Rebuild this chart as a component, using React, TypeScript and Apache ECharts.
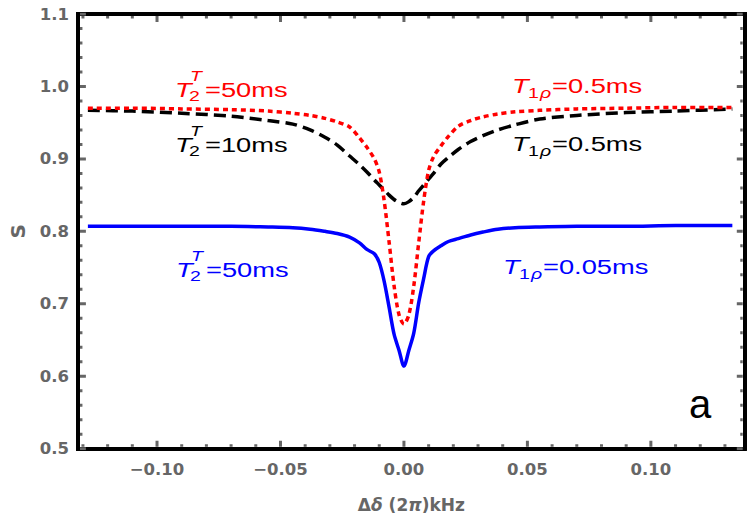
import React, { useEffect, useRef } from "react";
import * as echarts from "echarts";

// Detuning grid (2π kHz) shared by the three curves
const deltaKHz = [
  -0.128, -0.11, -0.09, -0.07, -0.055, -0.045, -0.038, -0.032, -0.027, -0.022,
  -0.018, -0.015, -0.012, -0.01, -0.008, -0.006, -0.004, -0.002, 0, 0.002,
  0.004, 0.006, 0.008, 0.01, 0.012, 0.015, 0.018, 0.022, 0.027, 0.032,
  0.038, 0.045, 0.055, 0.07, 0.09, 0.11, 0.133,
];

// T2^T = 50 ms, T1rho = 0.5 ms (red, dotted)
const sRedDotted = [
  0.97, 0.97, 0.969, 0.968, 0.966, 0.963, 0.96, 0.956, 0.951, 0.944,
  0.929, 0.916, 0.9, 0.882, 0.842, 0.785, 0.725, 0.685, 0.672, 0.685,
  0.725, 0.785, 0.842, 0.884, 0.903, 0.918, 0.931, 0.945, 0.953, 0.958,
  0.962, 0.965, 0.967, 0.969, 0.97, 0.971, 0.971,
];

// T2^T = 10 ms, T1rho = 0.5 ms (black, dashed)
const sBlackDashed = [
  0.967, 0.966, 0.963, 0.959, 0.953, 0.948, 0.94, 0.93, 0.919, 0.904,
  0.892, 0.882, 0.871, 0.864, 0.857, 0.85, 0.844, 0.84, 0.838, 0.841,
  0.847, 0.856, 0.864, 0.872, 0.88, 0.893, 0.902, 0.913, 0.924, 0.932,
  0.94, 0.947, 0.955, 0.96, 0.964, 0.966, 0.969,
];

// T2^T = 50 ms, T1rho = 0.05 ms (blue, solid)
const sBlueSolid = [
  0.807, 0.807, 0.807, 0.807, 0.806, 0.805, 0.803, 0.8, 0.797, 0.792,
  0.784, 0.775, 0.769, 0.757, 0.731, 0.695, 0.658, 0.636, 0.614, 0.636,
  0.66, 0.702, 0.735, 0.765, 0.773, 0.78, 0.786, 0.79, 0.795, 0.799,
  0.803, 0.805, 0.806, 0.807, 0.807, 0.808, 0.808,
];

// Frame tick marks (drawn on all four sides)
const xMajorTicks = [-0.1, -0.05, 0, 0.05, 0.1];
const xMinorTicks = [
  -0.13, -0.12, -0.11, -0.09, -0.08, -0.07, -0.06, -0.04, -0.03, -0.02, -0.01,
  0.01, 0.02, 0.03, 0.04, 0.06, 0.07, 0.08, 0.09, 0.11, 0.12, 0.13,
];
const yMajorTicks = [0.5, 0.6, 0.7, 0.8, 0.9, 1.0, 1.1];
const yMinorTicks = [
  0.52, 0.54, 0.56, 0.58, 0.62, 0.64, 0.66, 0.68, 0.72, 0.74, 0.76, 0.78,
  0.82, 0.84, 0.86, 0.88, 0.92, 0.94, 0.96, 0.98, 1.02, 1.04, 1.06, 1.08,
];

const xRange = [-0.132, 0.138];
const yRange = [0.5, 1.1];

const RED = "#ff0000";
const BLUE = "#0000ff";
const BLACK = "#000000";
const GRAY = "#666666";
const LABEL_FONT = '"Liberation Sans", Arial, sans-serif';
const AXIS_FONT = '"DejaVu Sans", sans-serif';
const STRETCH = 1.3;

// Tick lengths in axis units (x ticks run along y, y ticks run along x)
const Y_TICK = { start: 0.0028, major: 0.011, minor: 0.0062 };
const X_TICK = { start: 0.0008, major: 0.0032, minor: 0.0018 };

type Piece = { t: string; dx: number; dy: number; size: number; italic?: boolean };

// Left-hand labels: T with stacked superscript T and subscript 2
const t2Pieces = (rest: string): Piece[] => [
  { t: "T", dx: 0, dy: 0, size: 21, italic: true },
  { t: "T", dx: 15, dy: -14, size: 15, italic: true },
  { t: "2", dx: 14, dy: 6, size: 15 },
  { t: rest, dx: 30, dy: 0, size: 21 },
];

// Right-hand labels: T with subscript "1 ρ"
const t1Pieces = (rest: string): Piece[] => [
  { t: "T", dx: 0, dy: 0, size: 21, italic: true },
  { t: "1", dx: 16, dy: 7, size: 15 },
  { t: "ρ", dx: 28, dy: 7, size: 15, italic: true },
  { t: rest, dx: 40, dy: 0, size: 21 },
];

const labelGroup = (x: number, y: number, color: string, pieces: Piece[]) => ({
  type: "group",
  x,
  y,
  silent: true,
  children: pieces.map((p) => ({
    type: "text",
    x: p.dx,
    y: p.dy,
    scaleX: STRETCH,
    style: {
      text: p.t,
      fill: color,
      fontSize: p.size,
      fontFamily: LABEL_FONT,
      fontStyle: p.italic ? "italic" : "normal",
      textAlign: "left",
      textVerticalAlign: "middle",
      align: "left",
      verticalAlign: "middle",
    },
  })),
});

const fmtX = (v: number) => {
  if (Math.abs(v) < 1e-9) return "0.00";
  return v < 0 ? "\u2212" + Math.abs(v).toFixed(2) : v.toFixed(2);
};

const frameLine = () => ({
  show: true,
  onZero: false,
  lineStyle: { color: BLACK, width: 4, cap: "square" },
});

// Tick segments as one broken polyline; "-" entries split the segments
const GAP = ["-", "-"];
const tickSegments: (number | string)[][] = [];
const addXTick = (v: number, len: number) => {
  tickSegments.push(
    [v, yRange[0] + Y_TICK.start], [v, yRange[0] + len], GAP,
    [v, yRange[1] - Y_TICK.start], [v, yRange[1] - len], GAP,
  );
};
const addYTick = (v: number, len: number) => {
  tickSegments.push(
    [xRange[0] + X_TICK.start, v], [xRange[0] + len, v], GAP,
    [xRange[1] - X_TICK.start, v], [xRange[1] - len, v], GAP,
  );
};
xMajorTicks.forEach((v) => addXTick(v, Y_TICK.major));
xMinorTicks.forEach((v) => addXTick(v, Y_TICK.minor));
yMajorTicks.forEach((v) => addYTick(v, X_TICK.major));
yMinorTicks.forEach((v) => addYTick(v, X_TICK.minor));

export default function App() {
  const ref = useRef<HTMLDivElement>(null);

  useEffect(() => {
    if (!ref.current) return;
    const chart = echarts.init(ref.current, undefined, { renderer: "svg" });

    const pairs = (ys: number[]) => deltaKHz.map((d, i) => [d, ys[i]]);

    const xAxisBase = (position: string) => ({
      type: "value",
      position,
      min: xRange[0],
      max: xRange[1],
      minInterval: 0.05,
      maxInterval: 0.05,
      axisLine: frameLine(),
      axisTick: { show: false },
      splitLine: { show: false },
    });
    const yAxisBase = (position: string) => ({
      type: "value",
      position,
      min: yRange[0],
      max: yRange[1],
      interval: 0.1,
      axisLine: frameLine(),
      axisTick: { show: false },
      splitLine: { show: false },
    });

    chart.setOption({
      animation: false,
      grid: { left: 75.5, right: 5.3, top: 14, bottom: 76.3 },
      xAxis: [
        {
          ...xAxisBase("bottom"),
          name: "{n|Δ}{i|δ}{n| (2}{i|π}{n|)kHz}",
          nameLocation: "middle",
          nameGap: 48,
          nameTextStyle: {
            rich: {
              n: { fontFamily: AXIS_FONT, fontWeight: "bold", fontSize: 17, color: GRAY },
              i: {
                fontFamily: AXIS_FONT,
                fontWeight: "bold",
                fontStyle: "italic",
                fontSize: 17,
                color: GRAY,
              },
            },
          },
          axisLabel: {
            color: GRAY,
            fontFamily: AXIS_FONT,
            fontWeight: "bold",
            fontSize: 16.5,
            margin: 12,
            showMinLabel: false,
            showMaxLabel: false,
            formatter: fmtX,
          },
        },
        { ...xAxisBase("top"), axisLabel: { show: false } },
      ],
      yAxis: [
        {
          ...yAxisBase("left"),
          name: "S",
          nameLocation: "middle",
          nameGap: 50,
          nameTextStyle: {
            color: GRAY,
            fontFamily: AXIS_FONT,
            fontWeight: "bold",
            fontSize: 20,
          },
          axisLabel: {
            color: GRAY,
            fontFamily: AXIS_FONT,
            fontWeight: "bold",
            fontSize: 16.5,
            margin: 9,
            formatter: (v: number) => v.toFixed(1),
          },
        },
        { ...yAxisBase("right"), axisLabel: { show: false } },
      ],
      series: [
        {
          type: "line",
          name: "ticks",
          data: tickSegments,
          showSymbol: false,
          connectNulls: false,
          silent: true,
          lineStyle: { color: GRAY, width: 3, type: "solid" },
        },
        {
          type: "line",
          data: pairs(sBlueSolid),
          showSymbol: false,
          smooth: 0.3,
          lineStyle: { color: BLUE, width: 3.5, type: "solid" },
        },
        {
          type: "line",
          data: pairs(sBlackDashed),
          showSymbol: false,
          smooth: 0.3,
          lineStyle: { color: BLACK, width: 3.5, type: [12, 6] },
        },
        {
          type: "line",
          data: pairs(sRedDotted),
          showSymbol: false,
          smooth: 0.3,
          lineStyle: { color: RED, width: 3.5, type: [5, 4] },
        },
      ],
      graphic: [
        labelGroup(175, 89.5, RED, t2Pieces("=50ms")),
        labelGroup(175, 145, BLACK, t2Pieces("=10ms")),
        labelGroup(176, 270, BLUE, t2Pieces("=50ms")),
        labelGroup(512, 86, RED, t1Pieces("=0.5ms")),
        labelGroup(512, 144, BLACK, t1Pieces("=0.5ms")),
        labelGroup(503, 267, BLUE, t1Pieces("=0.05ms")),
        {
          type: "text",
          x: 700,
          y: 404,
          silent: true,
          style: {
            text: "a",
            fill: BLACK,
            fontSize: 40,
            fontFamily: LABEL_FONT,
            textAlign: "center",
            textVerticalAlign: "middle",
            align: "center",
            verticalAlign: "middle",
          },
        },
      ],
    });

    return () => chart.dispose();
  }, []);

  return (
    <div
      ref={ref}
      style={{ position: "absolute", left: 0, top: 0, width: 750, height: 525, background: "#ffffff" }}
    />
  );
}
